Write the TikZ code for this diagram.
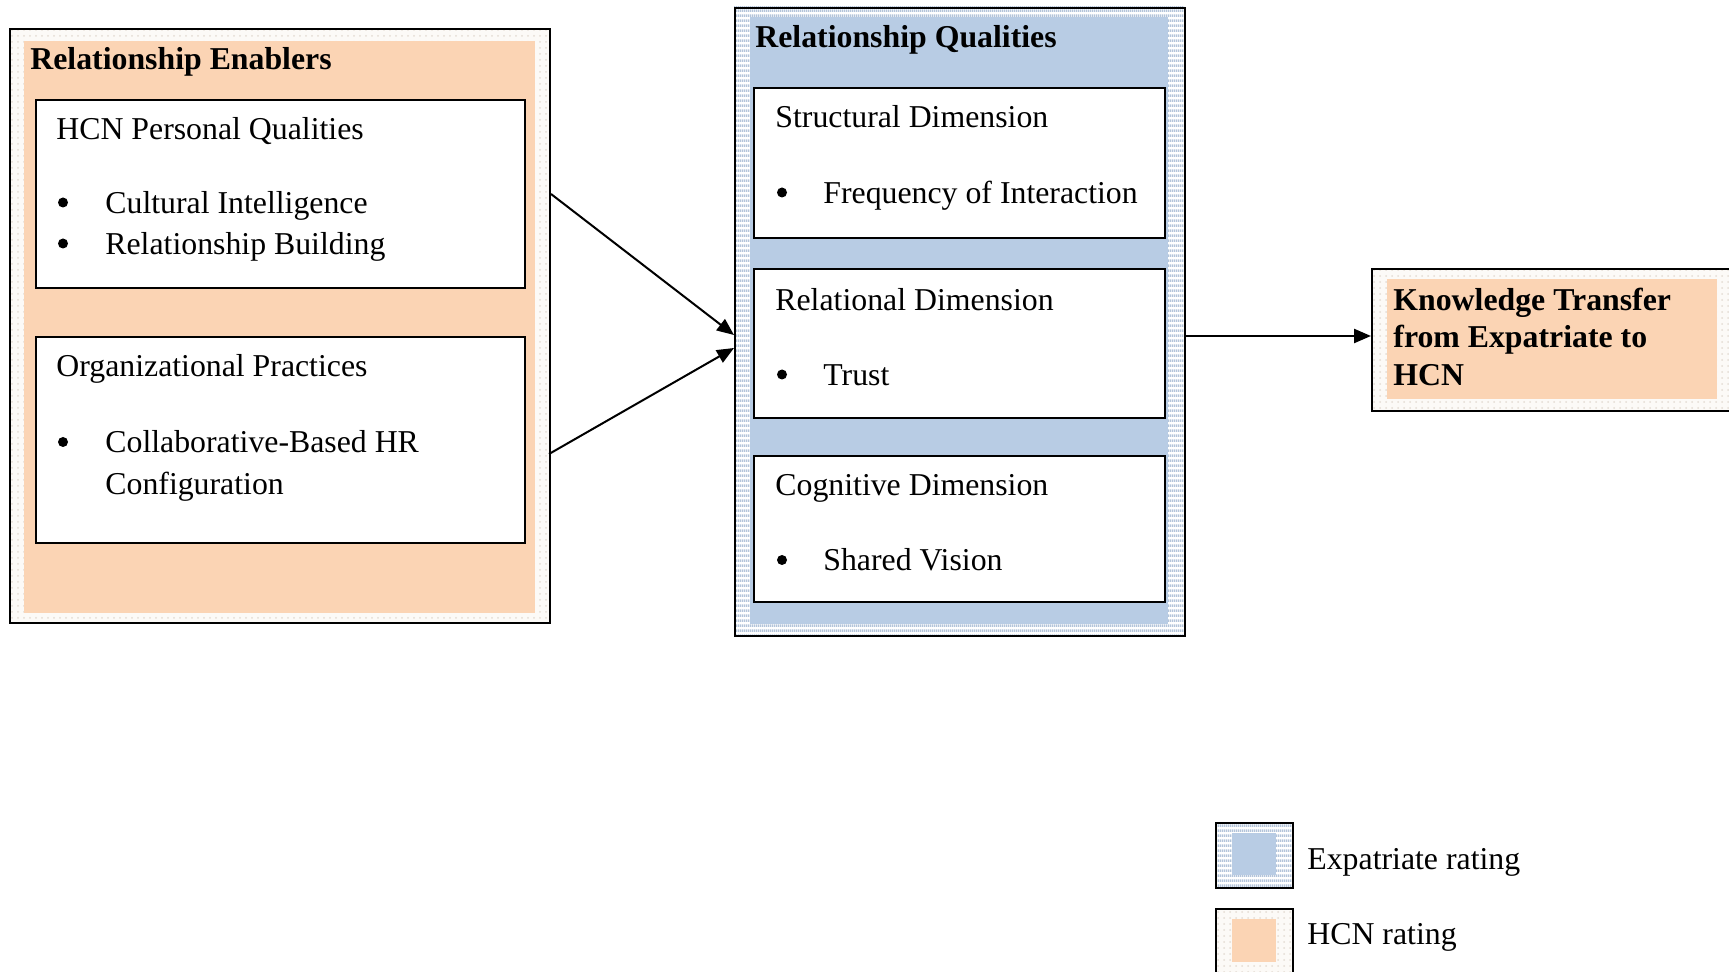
\documentclass[tikz,border=0pt]{standalone}
\usepackage{fontspec}
\setmainfont{Liberation Serif}
\usetikzlibrary{arrows.meta,patterns,patterns.meta}
\definecolor{peach}{HTML}{FBD4B4}
\definecolor{qblue}{HTML}{B8CCE4}
\definecolor{stripec}{HTML}{B3C4DA}
\definecolor{dotbg}{HTML}{FCFAF7}
\definecolor{dotc}{HTML}{E4DCD4}
\tikzdeclarepattern{name=hstripes, type=uncolored,
  bounding box={(0pt,0pt) and (1pt,2.5pt)}, tile size={(1pt,2.5pt)},
  code={\fill (0pt,0pt) rectangle (1pt,1.5pt);}}
\begin{document}
\begin{tikzpicture}[x=0.5pt,y=-0.5pt,
  txt/.style={font=\fontsize{15.9}{19}\selectfont, inner sep=0pt, anchor=base west},
  ttl/.style={font=\fontsize{15.9}{19}\selectfont\bfseries, inner sep=0pt, anchor=base west},
  bul/.style={circle, fill=black, inner sep=0pt, minimum size=5pt},
  frame/.style={draw=black, line width=1pt, inner sep=0pt, anchor=north west},
  whitebox/.style={frame, fill=white},
  dotband/.style={fill=dotbg, postaction={pattern=dots, pattern color=dotc}},
  stripeband/.style={fill=white, postaction={pattern=hstripes, pattern color=stripec}},
  arr/.style={line width=1pt, -{Triangle[length=8.5pt,width=7pt]}},
]
\useasboundingbox (0,0) rectangle (1729,972);

% ---------- Relationship Enablers ----------
\path[dotband] (9,28) rectangle (549,622);
\fill[peach] (24,41) rectangle (535,613);
\node[frame, minimum width=270pt, minimum height=297pt] (enablers) at (9,28) {};
\node[ttl] (enT) at (30,70) {Relationship Enablers};

\node[whitebox, minimum width=244.5pt, minimum height=94pt] (hcn) at (35,99) {};
\node[txt] (hcnT) at (56,139.5) {HCN Personal Qualities};
\node[bul] (hcnB1) at (63,202.5) {};
\node[txt] (hcn1) at (105,213.5) {Cultural Intelligence};
\node[bul] (hcnB2) at (63,243.5) {};
\node[txt] (hcn2) at (105,254.5) {Relationship Building};

\node[whitebox, minimum width=244.5pt, minimum height=103pt] (org) at (35,336) {};
\node[txt] (orgT) at (56,376.5) {Organizational Practices};
\node[bul] (orgB1) at (63,442) {};
\node[txt] (org1) at (105,453) {Collaborative-Based HR};
\node[txt] (org2) at (105,494.5) {Configuration};

% ---------- Relationship Qualities ----------
\path[stripeband] (734,7) rectangle (1184,635);
\fill[qblue] (750,17) rectangle (1168,624);
\node[frame, minimum width=225pt, minimum height=314pt] (qual) at (734,7) {};
\node[ttl] (qualT) at (755,48) {Relationship Qualities};

\node[whitebox, minimum width=205.5pt, minimum height=75pt] (struct) at (753,87) {};
\node[txt] (structT) at (775,127.5) {Structural Dimension};
\node[bul] (structB) at (782,192.5) {};
\node[txt] (struct1) at (823,203.5) {Frequency of Interaction};

\node[whitebox, minimum width=205.5pt, minimum height=74.5pt] (relat) at (753,268) {};
\node[txt] (relatT) at (775,310.5) {Relational Dimension};
\node[bul] (relatB) at (782,374.5) {};
\node[txt] (relat1) at (823,385.5) {Trust};

\node[whitebox, minimum width=205.5pt, minimum height=73pt] (cogn) at (753,455) {};
\node[txt] (cognT) at (775,495.5) {Cognitive Dimension};
\node[bul] (cognB) at (782,560) {};
\node[txt] (cogn1) at (823,571) {Shared Vision};

% ---------- Knowledge Transfer ----------
\path[dotband] (1371,268) rectangle (1760,410);
\fill[peach] (1387,279) rectangle (1717,399);
\node[frame, minimum width=194.5pt, minimum height=71pt] (kt) at (1371,268) {};
\node[ttl] (kt1) at (1393,310.5) {Knowledge Transfer};
\node[ttl] (kt2) at (1393,347.5) {from Expatriate to};
\node[ttl] (kt3) at (1393,385.5) {HCN};

% ---------- connectors ----------
\coordinate (e2) at (549,454);
\coordinate (q1) at (734,335);
\coordinate (q2) at (734,348);
\coordinate (q3) at (1184,336);
\coordinate (k1) at (1371,336);
\draw[arr] (enablers.east |- hcn.center) -- (q1);
\draw[arr] (e2) -- (q2);
\draw[arr, line width=1.2pt] (q3) -- (k1);

% ---------- legend ----------
\path[stripeband] (1215,822) rectangle (1292,887);
\fill[qblue] (1232,833) rectangle (1276,875);
\node[frame, minimum width=38.5pt, minimum height=32.5pt] (legE) at (1215,822) {};
\node[txt] (legET) at (1307,869) {Expatriate rating};

\path[dotband] (1215,908) rectangle (1292,1000);
\fill[peach] (1232,919) rectangle (1276,962);
\node[frame, minimum width=38.5pt, minimum height=46pt] (legH) at (1215,908) {};
\node[txt] (legHT) at (1307,944) {HCN rating};
\end{tikzpicture}
\end{document}
